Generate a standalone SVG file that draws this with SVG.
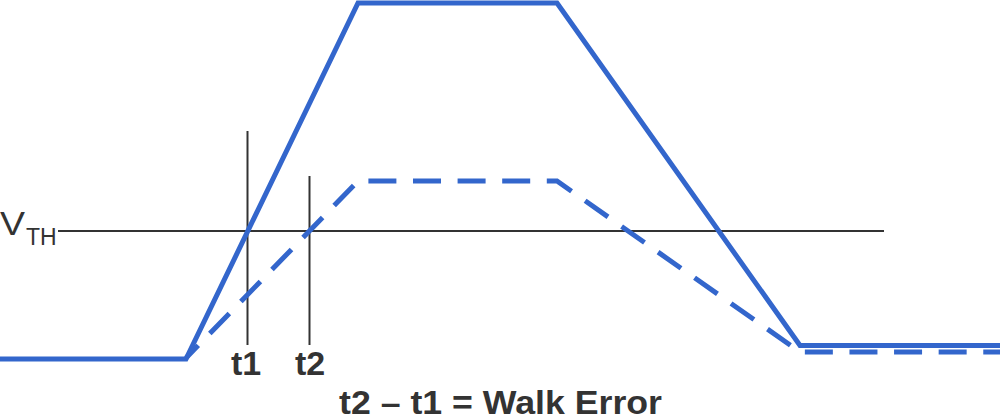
<svg xmlns="http://www.w3.org/2000/svg" width="1000" height="418" viewBox="0 0 1000 418">
  <style>
    .sig { fill: none; stroke: #3366CC; stroke-width: 5; stroke-linejoin: miter; }
    .dash { stroke-dasharray: 28 16.6; stroke-dashoffset: 10.4; }
    .ref { fill: none; stroke: #333333; stroke-width: 2; }
    .lbl { font-family: "Liberation Sans", Arial, sans-serif; fill: #333333; }
    .b { font-weight: bold; }
  </style>
  <rect width="1000" height="418" fill="#ffffff"/>
  <g id="reference-lines">
    <line class="ref" x1="58" y1="231" x2="884" y2="231"/>
    <line class="ref" x1="247.5" y1="131" x2="247.5" y2="345"/>
    <line class="ref" x1="309.5" y1="176" x2="309.5" y2="345"/>
  </g>
  <g id="signals">
    <path id="strong-pulse" class="sig" d="M0,359 L186,359 L358,3 L557,3 L800,345.5 L1000,345.5"/>
    <path id="weak-pulse" class="sig dash" d="M186,358 L358,181 L557,181 L800,352 L1000,352"/>
  </g>
  <g id="labels">
    <text class="lbl" x="0" y="235" font-size="33" textLength="25" lengthAdjust="spacingAndGlyphs">V</text>
    <text class="lbl" x="26" y="245" font-size="23">TH</text>
    <text class="lbl b" x="246" y="375" font-size="34" text-anchor="middle">t1</text>
    <text class="lbl b" x="310" y="375" font-size="34" text-anchor="middle">t2</text>
    <text class="lbl b" x="339" y="414" font-size="34" textLength="323" lengthAdjust="spacingAndGlyphs">t2 – t1 = Walk Error</text>
  </g>
</svg>
